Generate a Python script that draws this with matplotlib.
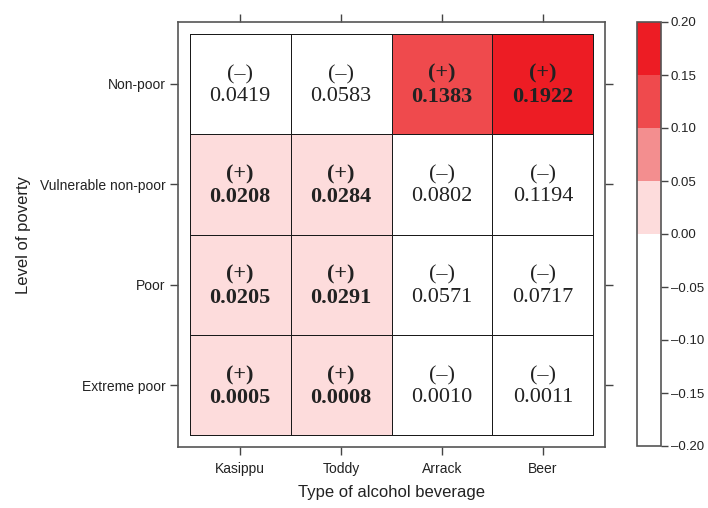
import numpy as np
import matplotlib
matplotlib.use("Agg")
import matplotlib.pyplot as plt
from matplotlib.colors import ListedColormap, BoundaryNorm

beverages = ["Kasippu", "Toddy", "Arrack", "Beer"]
poverty = ["Extreme poor", "Poor", "Vulnerable non-poor", "Non-poor"]  # bottom to top
values = np.array([
    [0.0005, 0.0008, -0.0010, -0.0011],
    [0.0205, 0.0291, -0.0571, -0.0717],
    [0.0208, 0.0284, -0.0802, -0.1194],
    [-0.0419, -0.0583, 0.1383, 0.1922],
])
bounds = [-0.20, -0.15, -0.10, -0.05, 0.00, 0.05, 0.10, 0.15, 0.20]
colors = ["#FFFFFF", "#FFFFFF", "#FFFFFF", "#FFFFFF",
          "#FDDCDC", "#F38E8F", "#EF4A4D", "#ED1C24"]

cmap = ListedColormap(colors)
norm = BoundaryNorm(bounds, cmap.N)

fig = plt.figure(figsize=(7.08, 5.08), dpi=100)
ax = fig.add_axes([178/708, 1-447/508, 427/708, 425/508])
cax = fig.add_axes([637/708, 1-446/508, 24/708, 424/508])

nx, ny = len(beverages), len(poverty)
xe = np.arange(nx + 1) + 0.5
ye = np.arange(ny + 1) + 0.5
ax.pcolormesh(xe, ye, values, cmap=cmap, norm=norm, edgecolors="#1a1a1a", linewidth=0.6)
pad = 0.115
ax.set_xlim(0.5 - pad, nx + 0.5 + pad)
ax.set_ylim(0.5 - pad, ny + 0.5 + pad)

for i in range(ny):
    for j in range(nx):
        v = values[i, j]
        sign = "(+)" if v > 0 else "(\u2013)"
        w = "bold" if v > 0 else "normal"
        ax.text(j + 1, i + 1 - 0.015, f"{sign}\n{abs(v):.4f}", ha="center", va="center",
                fontsize=16, fontweight=w, family="Liberation Serif",
                color="#222222", linespacing=1.2)

ax.set_xticks(np.arange(1, nx + 1))
ax.set_xticklabels(beverages)
ax.set_yticks(np.arange(1, ny + 1))
ax.set_yticklabels(poverty)
ax.tick_params(axis="both", which="both", direction="out", length=6, width=1,
               color="#444444", labelsize=10, labelcolor="#222222",
               top=True, right=True, pad=3)
ax.tick_params(axis="x", pad=5)
for lab in ax.get_xticklabels() + ax.get_yticklabels():
    lab.set_family("Liberation Sans")
for s in ax.spines.values():
    s.set_color("#555555")
    s.set_linewidth(1.2)

ax.set_xlabel("Type of alcohol beverage", family="Liberation Sans", fontsize=12,
              color="#222222", labelpad=6)
ax.set_ylabel("Level of poverty", family="Liberation Sans", fontsize=12,
              color="#222222", labelpad=6)

cb = fig.colorbar(plt.cm.ScalarMappable(norm=norm, cmap=cmap), cax=cax,
                  boundaries=bounds, ticks=bounds, spacing="proportional")
cb.ax.set_yticklabels([f"{b:.2f}".replace("-", "\u2013") for b in bounds])
cb.outline.set_edgecolor("#555555")
cb.outline.set_linewidth(1.2)
cax.tick_params(direction="out", length=5, width=1, color="#444444",
                labelsize=9.5, labelcolor="#222222", pad=2)
for lab in cax.get_yticklabels():
    lab.set_family("Liberation Sans")

fig.savefig("out.png", dpi=100)
